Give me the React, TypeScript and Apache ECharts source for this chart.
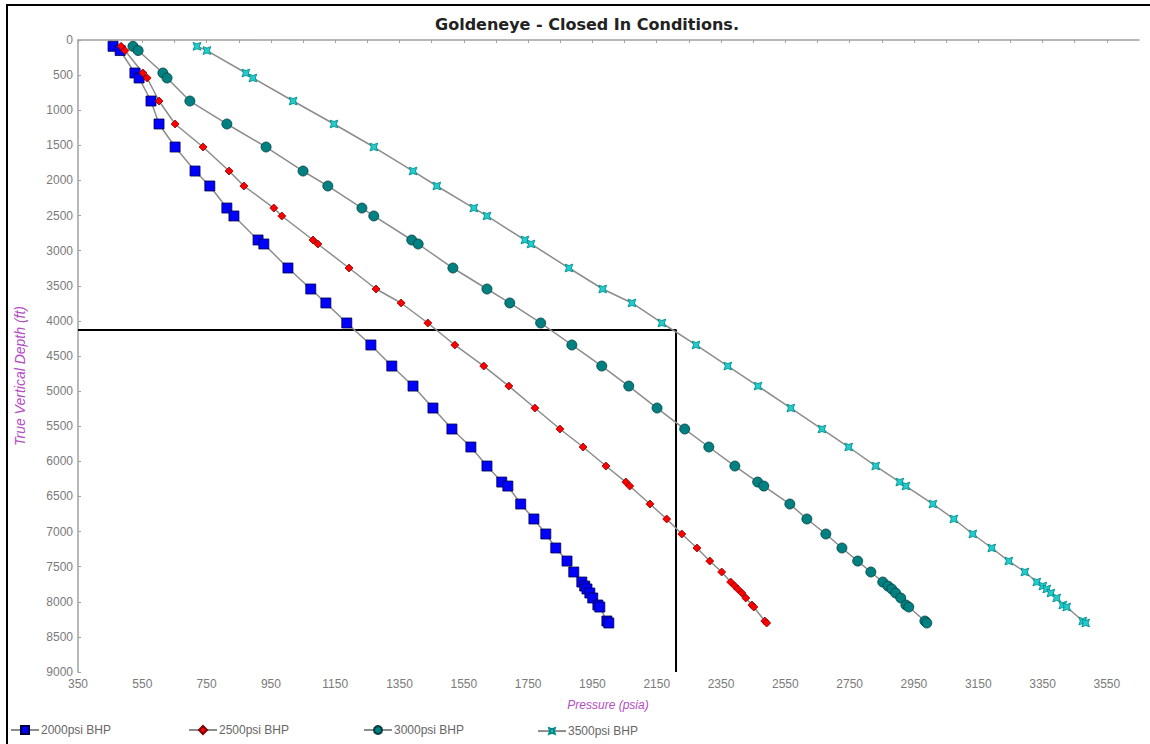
import React, { useEffect, useRef } from "react";
import * as echarts from "echarts";

const titleText = "Goldeneye - Closed In Conditions.";
const xName = "Pressure (psia)";
const yName = "True Vertical Depth (ft)";
const seriesNames = ["2000psi BHP", "2500psi BHP", "3000psi BHP", "3500psi BHP"];

// True vertical depth (ft) of each survey station
const depths = [
  90, 150, 470, 541, 869, 1196, 1524, 1866, 2079, 2393, 2506, 2848, 2905, 3247,
  3546, 3745, 4030, 4343, 4643, 4928, 5241, 5540, 5796, 6067, 6295, 6352, 6608,
  6821, 7035, 7234, 7420, 7576, 7719, 7776, 7818, 7875, 7946, 8046, 8075, 8274, 8302,
];

// Pressure (psia) per station for each bottom-hole pressure case
const p2000 = [
  459, 481, 527, 540, 577, 602, 652, 714, 760, 813, 835, 910, 928, 1003, 1074, 1121,
  1186, 1261, 1326, 1392, 1454, 1513, 1572, 1622, 1668, 1687, 1727, 1768, 1805, 1836,
  1871, 1892, 1917, 1926, 1933, 1942, 1951, 1967, 1973, 1995, 2001,
];
const p2500 = [
  484, 496, 552, 565, 602, 652, 739, 820, 866, 959, 984, 1081, 1096, 1193, 1277, 1355,
  1438, 1522, 1612, 1690, 1771, 1849, 1921, 1992, 2054, 2066, 2129, 2181, 2228, 2275,
  2315, 2352, 2380, 2393, 2402, 2415, 2427, 2446, 2452, 2486, 2492,
];
const p3000 = [
  521, 537, 614, 627, 698, 813, 935, 1050, 1127, 1233, 1270, 1388, 1408, 1516, 1622,
  1693, 1789, 1886, 1979, 2063, 2151, 2237, 2312, 2393, 2464, 2483, 2564, 2617, 2676,
  2726, 2775, 2816, 2853, 2869, 2881, 2893, 2909, 2925, 2934, 2984, 2990,
];
const p3500 = [
  720, 751, 872, 894, 1019, 1146, 1270, 1392, 1466, 1581, 1622, 1740, 1759, 1877, 1982,
  2073, 2166, 2272, 2371, 2465, 2567, 2664, 2747, 2831, 2906, 2925, 3009, 3074, 3133,
  3192, 3245, 3295, 3332, 3351, 3363, 3376, 3394, 3413, 3425, 3475, 3484,
];

// Boundary box drawn on the chart: [pressure, depth]
const boxLine = [
  [350, 4130],
  [2210, 4130],
  [2210, 9000],
];

const FONT = "'Liberation Sans', Arial, sans-serif";
const STAR =
  "path://M5,0 L6.6,3.4 L10,5 L6.6,6.6 L5,10 L3.4,6.6 L0,5 L3.4,3.4 Z";

export default function App() {
  const ref = useRef<HTMLDivElement>(null);

  useEffect(() => {
    if (!ref.current) return;
    const chart = echarts.init(ref.current, undefined, { renderer: "svg" });

    const pressures = [p2000, p2500, p3000, p3500];
    const styles = [
      { symbol: "rect", size: 10, color: "#0000ff", border: "#000044" },
      { symbol: "diamond", size: 8, color: "#ff0000", border: "#800000" },
      { symbol: "circle", size: 10, color: "#008080", border: "#003c3c" },
      { symbol: STAR, size: 11, color: "#22cccc", border: "#008a8a", rotate: 45 },
    ];

    const series: any[] = pressures.map((arr, i) => ({
      name: seriesNames[i],
      type: "line",
      data: depths.map((d, j) => [arr[j], d]),
      showAllSymbol: true,
      symbol: styles[i].symbol,
      symbolSize: styles[i].size,
      symbolRotate: (styles[i] as any).rotate || 0,
      lineStyle: { color: "#8c8c8c", width: 1.5 },
      itemStyle: {
        color: styles[i].color,
        borderColor: styles[i].border,
        borderWidth: 0.8,
      },
      z: 3,
    }));

    series.push({
      name: "box",
      type: "line",
      data: boxLine,
      symbol: "none",
      lineStyle: { color: "#000000", width: 2 },
      z: 2,
      silent: true,
    });

    const legendLefts = [10, 188, 363, 537];

    chart.setOption({
      animation: false,
      backgroundColor: "#ffffff",
      textStyle: { fontFamily: FONT },
      title: {
        text: titleText,
        left: 582,
        top: 11,
        textAlign: "center",
        textStyle: {
          fontFamily: "'DejaVu Sans', Verdana, sans-serif",
          fontSize: 16,
          fontWeight: "bold",
          color: "#222222",
        },
      },
      legend: seriesNames.map((n, i) => ({
        data: [n],
        left: legendLefts[i],
        top: 724,
        itemWidth: 28,
        itemHeight: 10,
        itemGap: 4,
        textStyle: { fontFamily: FONT, fontSize: 12, color: "#666666", padding: [0, 0, 0, -3] },
        selectedMode: false,
        padding: 0,
      })),
      grid: { left: 78, top: 40, right: 11, bottom: 72 },
      xAxis: {
        type: "value",
        min: 350,
        max: 3650,
        interval: 100,
        axisLine: { lineStyle: { color: "#a0a0a0", width: 1.5 } },
        axisTick: { show: true, length: 3, lineStyle: { color: "#a0a0a0" } },
        axisLabel: {
          color: "#7a7a7a",
          fontFamily: FONT,
          fontSize: 12,
          margin: 6,
          showMaxLabel: false,
          formatter: (v: number) => ((v - 350) % 200 === 0 ? String(v) : ""),
        },
        splitLine: { show: false },
      },
      yAxis: {
        type: "value",
        inverse: true,
        min: 0,
        max: 9000,
        interval: 500,
        axisLine: { show: true, lineStyle: { color: "#a0a0a0", width: 1.5 } },
        axisTick: { show: true, inside: true, length: 3, lineStyle: { color: "#a0a0a0" } },
        axisLabel: {
          color: "#7a7a7a",
          fontFamily: FONT,
          fontSize: 12,
          margin: 5,
          formatter: (v: number) => String(v),
        },
        splitLine: { show: false },
      },
      graphic: [
        {
          type: "rect",
          shape: { x: 7, y: 5, width: 1200, height: 800 },
          style: { fill: "none", stroke: "#000000", lineWidth: 2 },
          silent: true,
          z: 0,
        },
        {
          type: "text",
          x: 20,
          y: 376,
          rotation: Math.PI / 2,
          style: {
            text: yName,
            fill: "#b44cc4",
            font: `italic 14px ${FONT}`,
            align: "center",
            verticalAlign: "middle",
          },
        },
        {
          type: "text",
          x: 608,
          y: 705,
          style: {
            text: xName,
            fill: "#b44cc4",
            font: `italic 12px ${FONT}`,
            align: "center",
            verticalAlign: "middle",
          },
        },
      ],
      series,
    });

    return () => chart.dispose();
  }, []);

  return (
    <div
      ref={ref}
      style={{ position: "fixed", left: 0, top: 0, width: 1150, height: 744 }}
    />
  );
}
